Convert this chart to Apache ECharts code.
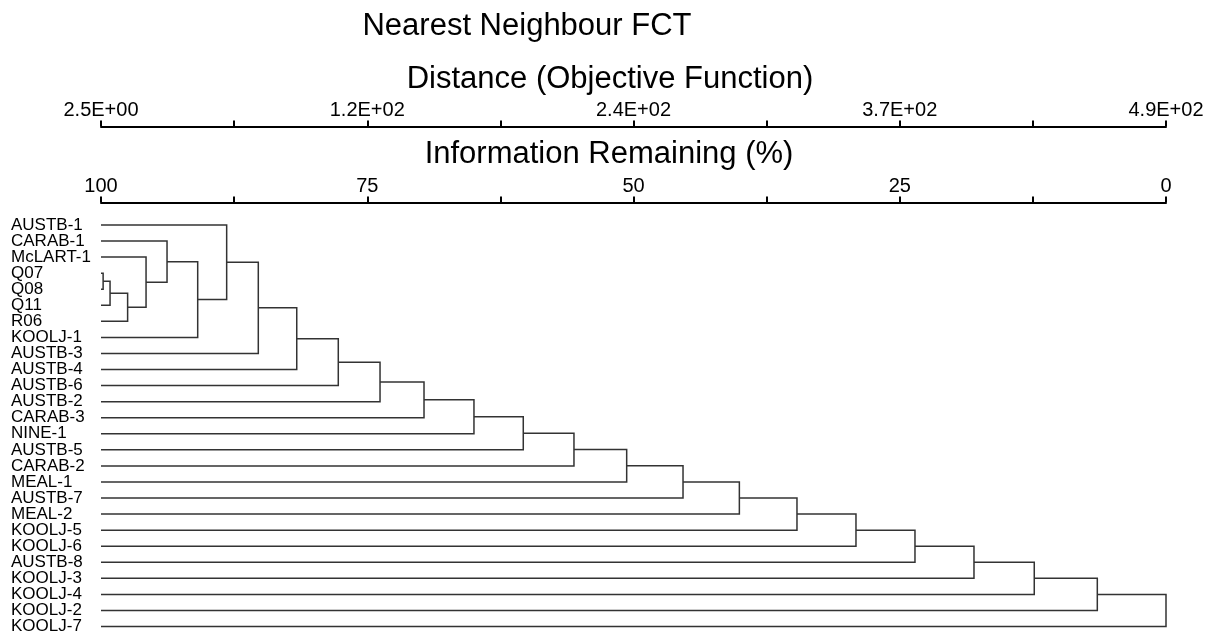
<!DOCTYPE html>
<html>
<head>
<meta charset="utf-8">
<script src="https://cdn.jsdelivr.net/npm/echarts@6/dist/echarts.min.js"></script>
<style>html,body{margin:0;padding:0;background:#fff}#chart{width:1215px;height:635px}</style>
</head>
<body>
<div id="chart"></div>
<script>
// Leaf labels, top to bottom
const leaves = ['AUSTB-1','CARAB-1','McLART-1','Q07','Q08','Q11','R06','KOOLJ-1','AUSTB-3','AUSTB-4','AUSTB-6','AUSTB-2','CARAB-3','NINE-1','AUSTB-5','CARAB-2','MEAL-1','AUSTB-7','MEAL-2','KOOLJ-5','KOOLJ-6','AUSTB-8','KOOLJ-3','KOOLJ-4','KOOLJ-2','KOOLJ-7'];
// Merges: node ids 0..25 are leaves, 26+k is the cluster formed by merge k
const mergeLeft  = [3, 26, 27, 2, 1, 30, 0, 32, 33, 34, 35, 36, 37, 38, 39, 40, 41, 42, 43, 44, 45, 46, 47, 48, 49];
const mergeRight = [4, 5, 6, 28, 29, 7, 31, 8, 9, 10, 11, 12, 13, 14, 15, 16, 17, 18, 19, 20, 21, 22, 23, 24, 25];
// Information remaining (%) at each merge
const mergeHeight = [99.8, 99.15, 97.5, 95.77, 93.8, 90.92, 88.2, 85.23, 81.62, 77.72, 73.8, 69.67, 64.98, 60.35, 55.59, 50.64, 45.35, 40.06, 34.65, 29.11, 23.57, 18.03, 12.37, 6.45, 0];
// Axis tick labels
const infoTickLabels = ['100', '75', '50', '25', '0'];
const distTickLabels = ['2.5E+00', '1.2E+02', '2.4E+02', '3.7E+02', '4.9E+02'];

const FONT = "'Liberation Sans', Arial, sans-serif";

const n = leaves.length;
const nodeY = leaves.map((_, i) => i);
const nodeH = leaves.map(() => 100);
const segs = [];
for (let k = 0; k < mergeHeight.length; k++) {
  const a = mergeLeft[k], b = mergeRight[k], h = mergeHeight[k];
  segs.push([nodeH[a], nodeY[a], h, nodeY[b], nodeH[b]]);
  nodeY[n + k] = (nodeY[a] + nodeY[b]) / 2;
  nodeH[n + k] = h;
}

function tickFmt(labels) {
  return function (v) {
    const r = Math.round(v * 100) / 100;
    if (Math.abs(r % 25) > 1e-6) return '';
    return labels[Math.round((100 - r) / 25)];
  };
}

function topAxis(offset, labels) {
  return {
    type: 'value', position: 'top', offset: offset,
    min: 0, max: 100, interval: 12.5, inverse: true,
    splitLine: { show: false },
    axisLine: { show: true, onZero: false, lineStyle: { color: '#000', width: 2 } },
    axisTick: { show: true, length: 6, lineStyle: { color: '#000', width: 2 } },
    axisLabel: { show: true, margin: 6, fontSize: 20, color: '#000', fontFamily: FONT,
      showMinLabel: true, showMaxLabel: true, hideOverlap: false, formatter: tickFmt(labels) }
  };
}

const chart = echarts.init(document.getElementById('chart'), null, { renderer: 'canvas' });
chart.setOption({
  animation: false,
  backgroundColor: '#fff',
  grid: { left: 101, right: 49, top: 225, bottom: 8, containLabel: false },
  xAxis: [topAxis(98.5, distTickLabels), topAxis(22.5, infoTickLabels)],
  yAxis: [
    {
      type: 'value', min: 0, max: n - 1, interval: 1, inverse: true,
      axisLine: { show: false, onZero: false }, axisTick: { show: false }, splitLine: { show: false },
      axisLabel: { show: false }
    },
    {
      type: 'category', data: leaves, boundaryGap: false, inverse: true, position: 'left',
      axisLine: { show: false, onZero: false }, axisTick: { show: false }, splitLine: { show: false },
      axisLabel: { show: true, interval: 0, align: 'left', margin: 90, fontSize: 17, color: '#000', fontFamily: FONT,
        hideOverlap: false }
    }
  ],
  graphic: [
    { type: 'text', x: 527, y: 26, style: { text: 'Nearest Neighbour FCT', font: '31px ' + FONT, fill: '#000', align: 'center', verticalAlign: 'middle' } },
    { type: 'text', x: 610, y: 79, style: { text: 'Distance (Objective Function)', font: '31px ' + FONT, fill: '#000', align: 'center', verticalAlign: 'middle' } },
    { type: 'text', x: 609, y: 154, style: { text: 'Information Remaining (%)', font: '31px ' + FONT, fill: '#000', align: 'center', verticalAlign: 'middle' } }
  ],
  series: [{
    type: 'custom',
    xAxisIndex: 1,
    yAxisIndex: 0,
    clip: false,
    data: segs,
    encode: { x: [0, 2, 4], y: [1, 3] },
    renderItem: function (params, api) {
      const p1 = api.coord([api.value(0), api.value(1)]);
      const p2 = api.coord([api.value(2), api.value(1)]);
      const p3 = api.coord([api.value(2), api.value(3)]);
      const p4 = api.coord([api.value(4), api.value(3)]);
      return { type: 'polyline', shape: { points: [p1, p2, p3, p4] },
        style: { stroke: '#333', lineWidth: 1.5, fill: null } };
    }
  }]
});
</script>
</body>
</html>
